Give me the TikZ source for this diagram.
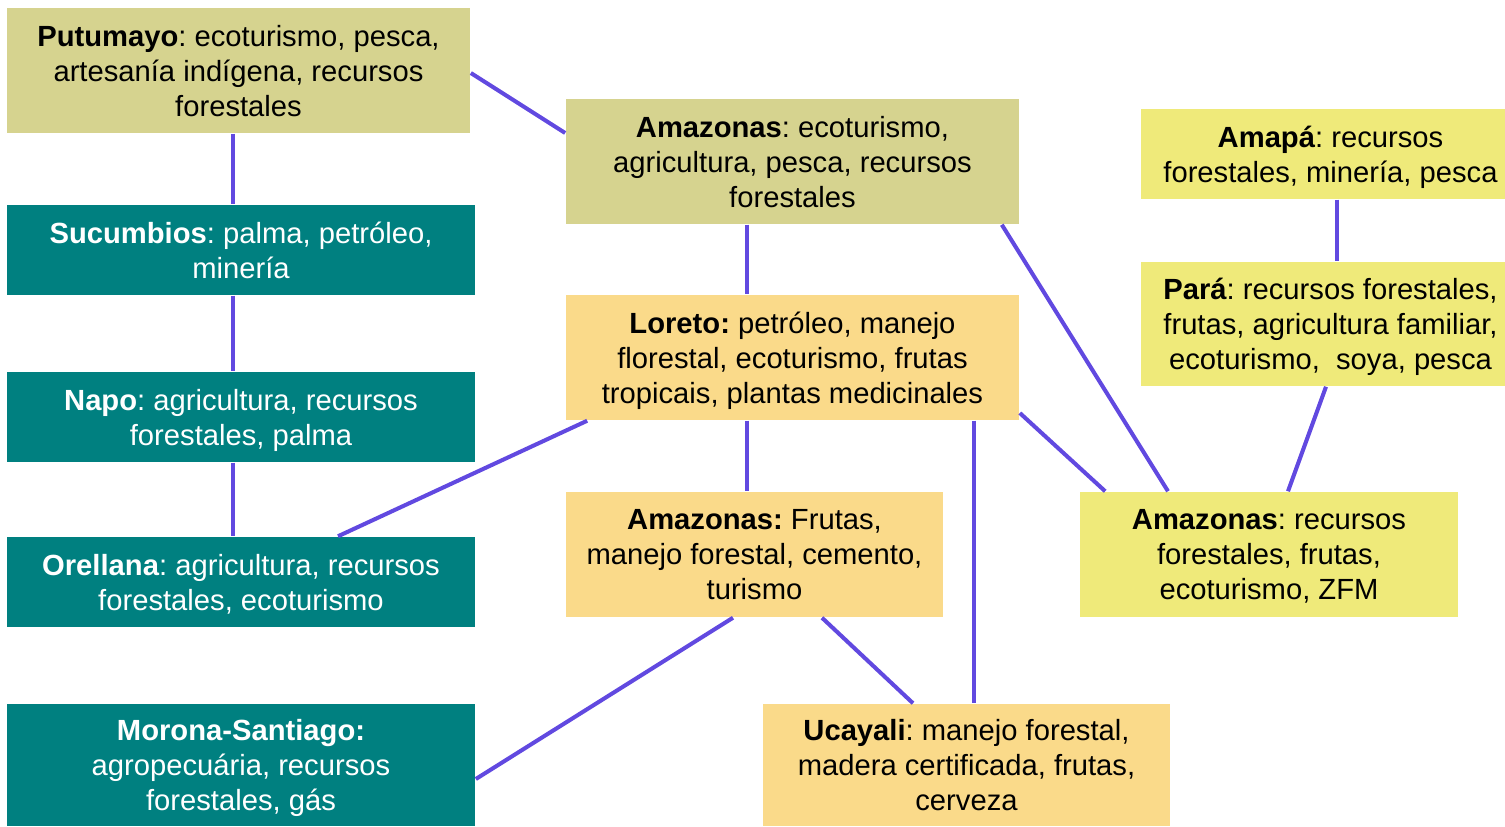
\documentclass[tikz,border=0pt]{standalone}
\usepackage{fontspec}
\setmainfont{Liberation Sans}
\usepackage{tikz}
\usetikzlibrary{calc}
\definecolor{oliveFill}{HTML}{D6D38F}
\definecolor{tealFill}{HTML}{008080}
\definecolor{peachFill}{HTML}{FADA8A}
\definecolor{lemonFill}{HTML}{EFEA7A}
\definecolor{linkCol}{HTML}{6149E0}
\tikzset{
  regionBox/.style={rectangle, inner sep=0pt, align=center, text=black,
    font=\fontsize{8.3}{9.96}\selectfont, text depth=-2pt},
  oliveBox/.style={regionBox, fill=oliveFill},
  tealBox/.style={regionBox, fill=tealFill, text=white},
  peachBox/.style={regionBox, fill=peachFill},
  lemonBox/.style={regionBox, fill=lemonFill},
  link/.style={draw=linkCol, line width=1.15pt},
}

\begin{document}
\frenchspacing
\begin{tikzpicture}[x=0.01cm, y=-0.01cm]
  \useasboundingbox (0,0) rectangle (1505,827);
  \clip (0,0) rectangle (1505,827);

  % left column
  \node[oliveBox, minimum width=4.63cm, minimum height=1.25cm] (putu) at (238.5,70.5)
    {\textbf{Putumayo}: ecoturismo, pesca,\\ artesanía indígena, recursos\\ forestales};
  \node[tealBox, minimum width=4.68cm, minimum height=0.9cm] (sucu) at (241,250)
    {\textbf{Sucumbios}: palma, petróleo,\\ minería};
  \node[tealBox, minimum width=4.68cm, minimum height=0.9cm] (napo) at (241,417)
    {\textbf{Napo}: agricultura, recursos\\ forestales, palma};
  \node[tealBox, minimum width=4.68cm, minimum height=0.9cm] (orel) at (241,582)
    {\textbf{Orellana}: agricultura, recursos\\ forestales, ecoturismo};
  \node[tealBox, minimum width=4.68cm, minimum height=1.22cm] (moro) at (241,765)
    {\textbf{Morona-Santiago:}\\ agropecuária, recursos\\ forestales, gás};

  % middle
  \node[oliveBox, minimum width=4.53cm, minimum height=1.25cm] (amaz) at (792.5,161.5)
    {\textbf{Amazonas}: ecoturismo,\\ agricultura, pesca, recursos\\ forestales};
  \node[peachBox, minimum width=4.53cm, minimum height=1.25cm] (lore) at (792.5,357.5)
    {\textbf{Loreto:} petróleo, manejo\\ florestal, ecoturismo, frutas\\ tropicais, plantas medicinales};
  \node[peachBox, minimum width=3.77cm, minimum height=1.25cm] (amfr) at (754.5,554.5)
    {\textbf{Amazonas:} Frutas,\\ manejo forestal, cemento,\\ turismo};
  \node[peachBox, minimum width=4.07cm, minimum height=1.22cm] (ucay) at (966.5,765)
    {\textbf{Ucayali}: manejo forestal,\\ madera certificada, frutas,\\ cerveza};

  % right (the two top boxes run past the page edge)
  \node[lemonBox, minimum width=3.79cm, minimum height=0.9cm] (amap) at (1330.5,154)
    {\textbf{Amapá}: recursos\\ forestales, minería, pesca};
  \node[lemonBox, minimum width=3.79cm, minimum height=1.24cm] (para) at (1330.5,324)
    {\textbf{Pará}: recursos forestales,\\ frutas, agricultura familiar,\\ ecoturismo,\ \ soya, pesca};
  \node[lemonBox, minimum width=3.78cm, minimum height=1.25cm] (amzf) at (1269,554.5)
    {\textbf{Amazonas}: recursos\\ forestales, frutas,\\ ecoturismo, ZFM};

  \draw[link] ($(putu.east)+(0,2.5)$) -- ($(amaz.west)+(0,-28.5)$);
  \draw[link] ($(putu.south)+(-5.5,0)$) -- ($(sucu.north)+(-8,0)$);
  \draw[link] ($(sucu.south)+(-8,0)$) -- ($(napo.north)+(-8,0)$);
  \draw[link] ($(napo.south)+(-8,0)$) -- ($(orel.north)+(-8,0)$);
  \draw[link] ($(lore.south west)+(22,0)$) -- ($(orel.north)+(97,0)$);
  \draw[link] ($(amaz.south)+(-45.5,0)$) -- ($(lore.north)+(-45.5,0)$);
  \draw[link] ($(lore.south)+(-45.5,0)$) -- ($(amfr.north)+(-7.5,0)$);
  \draw[link] ($(amfr.south)+(-21.5,0)$) -- ($(moro.east)+(0,14)$);
  \draw[link] ($(amfr.south)+(67.5,0)$) -- ($(ucay.north)+(-53.5,0)$);
  \draw[link] ($(lore.south)+(181.5,0)$) -- ($(ucay.north)+(7.5,0)$);
  \draw[link] ($(lore.east)+(0,55.5)$) -- ($(amzf.north west)+(26,0)$);
  \draw[link] ($(amaz.south east)+(-18,0)$) -- ($(amzf.north)+(-101,0)$);
  \draw[link] ($(amap.south)+(6.5,0)$) -- ($(para.north)+(6.5,0)$);
  \draw[link] ($(para.south)+(-4.5,0)$) -- ($(amzf.north)+(19,0)$);
\end{tikzpicture}
\end{document}
